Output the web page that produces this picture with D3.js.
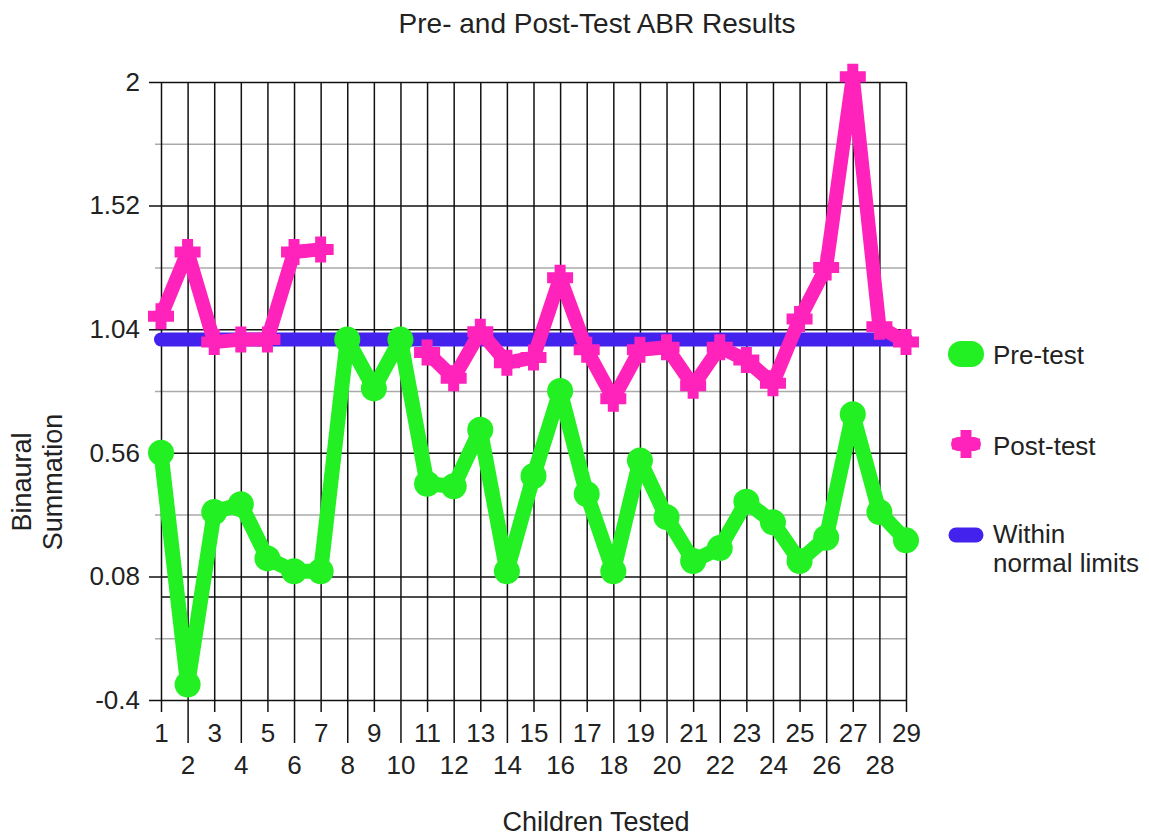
<!DOCTYPE html>
<html lang="en">
<head>
<meta charset="UTF-8">
<title>Pre- and Post-Test ABR Results</title>
<script src="https://d3js.org/d3.v7.min.js"></script>
<style>
  body { margin: 0; background: #fff; }
  svg { font-family: "Liberation Sans", Arial, sans-serif; }
  .lbl { fill: #222; }
</style>
</head>
<body>
<svg id="chart" width="1149" height="839"></svg>
<script>
// children on the x axis
var children = [1,2,3,4,5,6,7,8,9,10,11,12,13,14,15,16,17,18,19,20,21,22,23,24,25,26,27,28,29];

// binaural summation
var preTest = [0.56,-0.34,0.33,0.36,0.15,0.10,0.10,1.00,0.81,1.00,
               0.44,0.43,0.65,0.10,0.47,0.80,0.40,0.10,0.53,0.31,
               0.14,0.19,0.37,0.29,0.14,0.23,0.71,0.33,0.22];
var postTest = [1.09,1.34,0.99,1.00,1.00,1.34,1.35,null,null,null,
                0.95,0.85,1.03,0.91,0.93,1.24,0.96,0.77,0.96,0.97,
                0.82,0.97,0.92,0.83,1.08,1.28,2.02,1.05,0.99];
var normalLimit = [1,1,1,1,1,1,1,1,1,1,1,1,1,1,1,1,1,1,1,1,1,1,1,1,1,1,1,1,1];

var yMajor = [-0.4, 0.08, 0.56, 1.04, 1.52, 2];
var yMinor = [-0.16, 0.32, 0.8, 1.28, 1.76];
var yLabels = ["-0.4", "0.08", "0.56", "1.04", "1.52", "2"];

var GREEN = "#22f022", PINK = "#ff22bb", BLUE = "#4422ee";

var svg = d3.select("#chart");

var x = d3.scaleLinear().domain([1, 29]).range([161, 906]);
var y = d3.scaleLinear().domain([-0.4, 2]).range([700, 82]);

// gray minor grid
var minor = svg.append("g")
  .attr("transform", "translate(155,0)")
  .call(d3.axisLeft(y).tickValues(yMinor).tickSize(-(906 - 155)).tickFormat(""));
minor.select(".domain").remove();
minor.selectAll("line").attr("stroke", "#aaa").attr("stroke-width", 1.5);

// zero line
svg.append("line")
  .attr("x1", x(1)).attr("x2", x(29))
  .attr("y1", y(0)).attr("y2", y(0))
  .attr("stroke", "#111").attr("stroke-width", 1.5);

// black major grid + y labels
var yAx = svg.append("g")
  .attr("transform", "translate(149,0)")
  .call(d3.axisLeft(y).tickValues(yMajor).tickSize(-(906 - 149)).tickPadding(9)
    .tickFormat(function(d, i) { return yLabels[i]; }));
yAx.select(".domain").remove();
yAx.selectAll("line").attr("stroke", "#111").attr("stroke-width", 1.5);
yAx.selectAll("text").attr("class", "lbl").style("font-size", "26px")
  .style("font-family", "Liberation Sans, Arial, sans-serif");

// x axis: vertical grid lines with staggered labels
var xAx = svg.append("g")
  .attr("transform", "translate(0,700)")
  .call(d3.axisBottom(x).tickValues(children).tickFormat(d3.format("d")));
xAx.select(".domain").remove();
xAx.selectAll(".tick line")
  .attr("stroke", "#111").attr("stroke-width", 1.5)
  .attr("y1", y(2) - 700)
  .attr("y2", function(d) { return d % 2 ? 12 : 43; });
xAx.selectAll(".tick text")
  .attr("class", "lbl")
  .attr("dy", null)
  .attr("y", function(d) { return d % 2 ? 42 : 74; })
  .style("font-size", "26px")
  .style("font-family", "Liberation Sans, Arial, sans-serif");

// series
var line = d3.line()
  .defined(function(d) { return d != null; })
  .x(function(d, i) { return x(children[i]); })
  .y(function(d) { return y(d); });

svg.append("path").datum(normalLimit)
  .attr("d", line).attr("fill", "none")
  .attr("stroke", BLUE).attr("stroke-width", 14)
  .attr("stroke-linecap", "round");

svg.append("path").datum(preTest)
  .attr("d", line).attr("fill", "none")
  .attr("stroke", GREEN).attr("stroke-width", 15)
  .attr("stroke-linejoin", "round").attr("stroke-linecap", "round");

svg.append("g").selectAll("circle")
  .data(preTest)
  .join("circle")
  .attr("cx", function(d, i) { return x(children[i]); })
  .attr("cy", function(d) { return y(d); })
  .attr("r", 13)
  .attr("fill", GREEN);

svg.append("path").datum(postTest)
  .attr("d", line).attr("fill", "none")
  .attr("stroke", PINK).attr("stroke-width", 14)
  .attr("stroke-linejoin", "round").attr("stroke-linecap", "round");

// plus shaped marker
function plus(a, t) {
  return "M" + (-t) + "," + (-a) + "H" + t + "V" + (-t) + "H" + a + "V" + t +
         "H" + t + "V" + a + "H" + (-t) + "V" + t + "H" + (-a) + "V" + (-t) +
         "H" + (-t) + "Z";
}

svg.append("g").selectAll("path")
  .data(postTest.map(function(d, i) { return {v: d, c: children[i]}; })
    .filter(function(d) { return d.v != null; }))
  .join("path")
  .attr("d", plus(13, 5.5))
  .attr("transform", function(d) { return "translate(" + x(d.c) + "," + y(d.v) + ")"; })
  .attr("fill", PINK);

// titles
svg.append("text").attr("class", "lbl")
  .attr("x", 597).attr("y", 33).attr("text-anchor", "middle")
  .style("font-size", "28px")
  .text("Pre- and Post-Test ABR Results");

svg.append("text").attr("class", "lbl")
  .attr("x", 596).attr("y", 831).attr("text-anchor", "middle")
  .style("font-size", "27px")
  .text("Children Tested");

var yt = svg.append("text").attr("class", "lbl")
  .attr("transform", "translate(31,482) rotate(-90)")
  .attr("text-anchor", "middle")
  .style("font-size", "27px");
yt.append("tspan").attr("x", 0).attr("y", 0).text("Binaural");
yt.append("tspan").attr("x", 0).attr("y", 31).text("Summation");

// legend
var lg = svg.append("g").attr("transform", "translate(966,0)");

lg.append("line").attr("x1", -5).attr("x2", 5).attr("y1", 354).attr("y2", 354)
  .attr("stroke", GREEN).attr("stroke-width", 26).attr("stroke-linecap", "round");
lg.append("text").attr("class", "lbl").attr("x", 27).attr("y", 364)
  .style("font-size", "26px").text("Pre-test");

lg.append("line").attr("x1", -8).attr("x2", 8).attr("y1", 444).attr("y2", 444)
  .attr("stroke", PINK).attr("stroke-width", 14).attr("stroke-linecap", "round");
lg.append("path").attr("d", plus(14, 5.5)).attr("transform", "translate(0,444)").attr("fill", PINK);
lg.append("text").attr("class", "lbl").attr("x", 27).attr("y", 455)
  .style("font-size", "26px").text("Post-test");

lg.append("line").attr("x1", -10).attr("x2", 10).attr("y1", 535).attr("y2", 535)
  .attr("stroke", BLUE).attr("stroke-width", 15).attr("stroke-linecap", "round");
lg.append("text").attr("class", "lbl").attr("x", 27).attr("y", 543)
  .style("font-size", "26px").text("Within");
lg.append("text").attr("class", "lbl").attr("x", 27).attr("y", 572)
  .style("font-size", "26px").text("normal limits");
</script>
</body>
</html>
